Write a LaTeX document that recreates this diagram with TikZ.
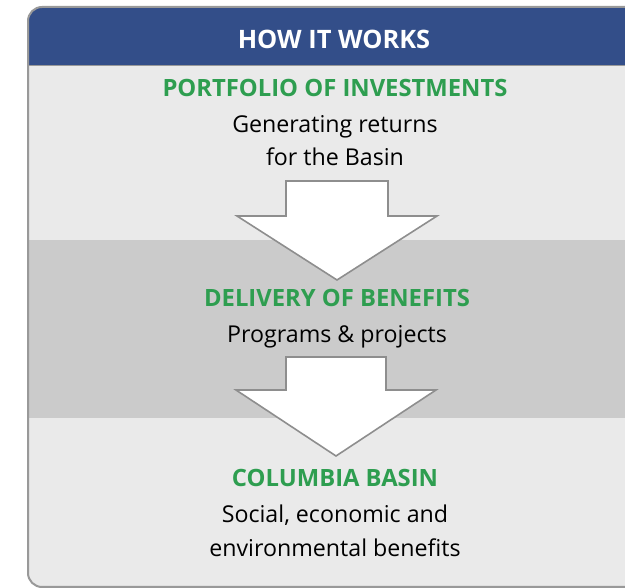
\documentclass[tikz,border=0pt]{standalone}
\usepackage{fontspec}
\setmainfont{Open Sans}
\definecolor{hdrblue}{HTML}{334E89}
\definecolor{lightbg}{HTML}{EAEAEA}
\definecolor{darkbg}{HTML}{CBCBCB}
\definecolor{framegray}{HTML}{999999}
\definecolor{arrowgray}{HTML}{8E8E8E}
\definecolor{headgreen}{HTML}{2E9E50}
\tikzset{
  heading/.style={anchor=base, text=headgreen, font=\fontsize{23.8}{27}\selectfont\bfseries, inner sep=0pt},
  bodytext/.style={anchor=base, text=black, font=\fontsize{23.2}{26}\selectfont, inner sep=0pt},
  titletext/.style={anchor=base, text=white, font=\fontsize{25.4}{28}\selectfont\bfseries, inner sep=0pt},
  downarrow/.style={fill=white, draw=arrowgray, line width=1.6pt, line join=miter}
}
\begin{document}
\begin{tikzpicture}[x=1pt,y=-1pt]
\useasboundingbox (0,0) rectangle (625,588);
\begin{scope}
\clip (0,0) rectangle (625,588);
% panel background
\fill[lightbg, rounded corners=14pt] (28,7) rectangle (660,587);
% darker middle band
\fill[darkbg] (28,240) rectangle (660,418);
% header
\fill[hdrblue, rounded corners=14pt] (28,7) rectangle (660,90);
\fill[lightbg] (28,66) rectangle (660,90);
\draw[framegray, line width=1.5pt] (28,65.5) -- (660,65.5);
% frame
\draw[framegray, line width=2pt, rounded corners=14pt] (28,7) rectangle (660,587);
\end{scope}
% arrows
\draw[downarrow] (286,181) -- (388,181) -- (388,216) -- (437,216) -- (337,280) -- (237,216) -- (286,216) -- cycle;
\draw[downarrow] (286,357) -- (386,357) -- (386,390) -- (436,390) -- (336,456) -- (236,390) -- (286,390) -- cycle;
% texts
\node[titletext] (title) at (334,49) {HOW IT WORKS};
\node[heading] (h1) at (335,97) {PORTFOLIO OF INVESTMENTS};
\node[bodytext] (b1a) at (335,133) {Generating returns};
\node[bodytext] (b1b) at (335,166) {for the Basin};
\node[heading] (h2) at (337,307) {DELIVERY OF BENEFITS};
\node[bodytext] (b2) at (337,343) {Programs \& projects};
\node[heading] (h3) at (335,487) {COLUMBIA BASIN};
\node[bodytext] (b3a) at (335,523) {Social, economic and};
\node[bodytext] (b3b) at (335,557) {environmental benefits};
\end{tikzpicture}
\end{document}
